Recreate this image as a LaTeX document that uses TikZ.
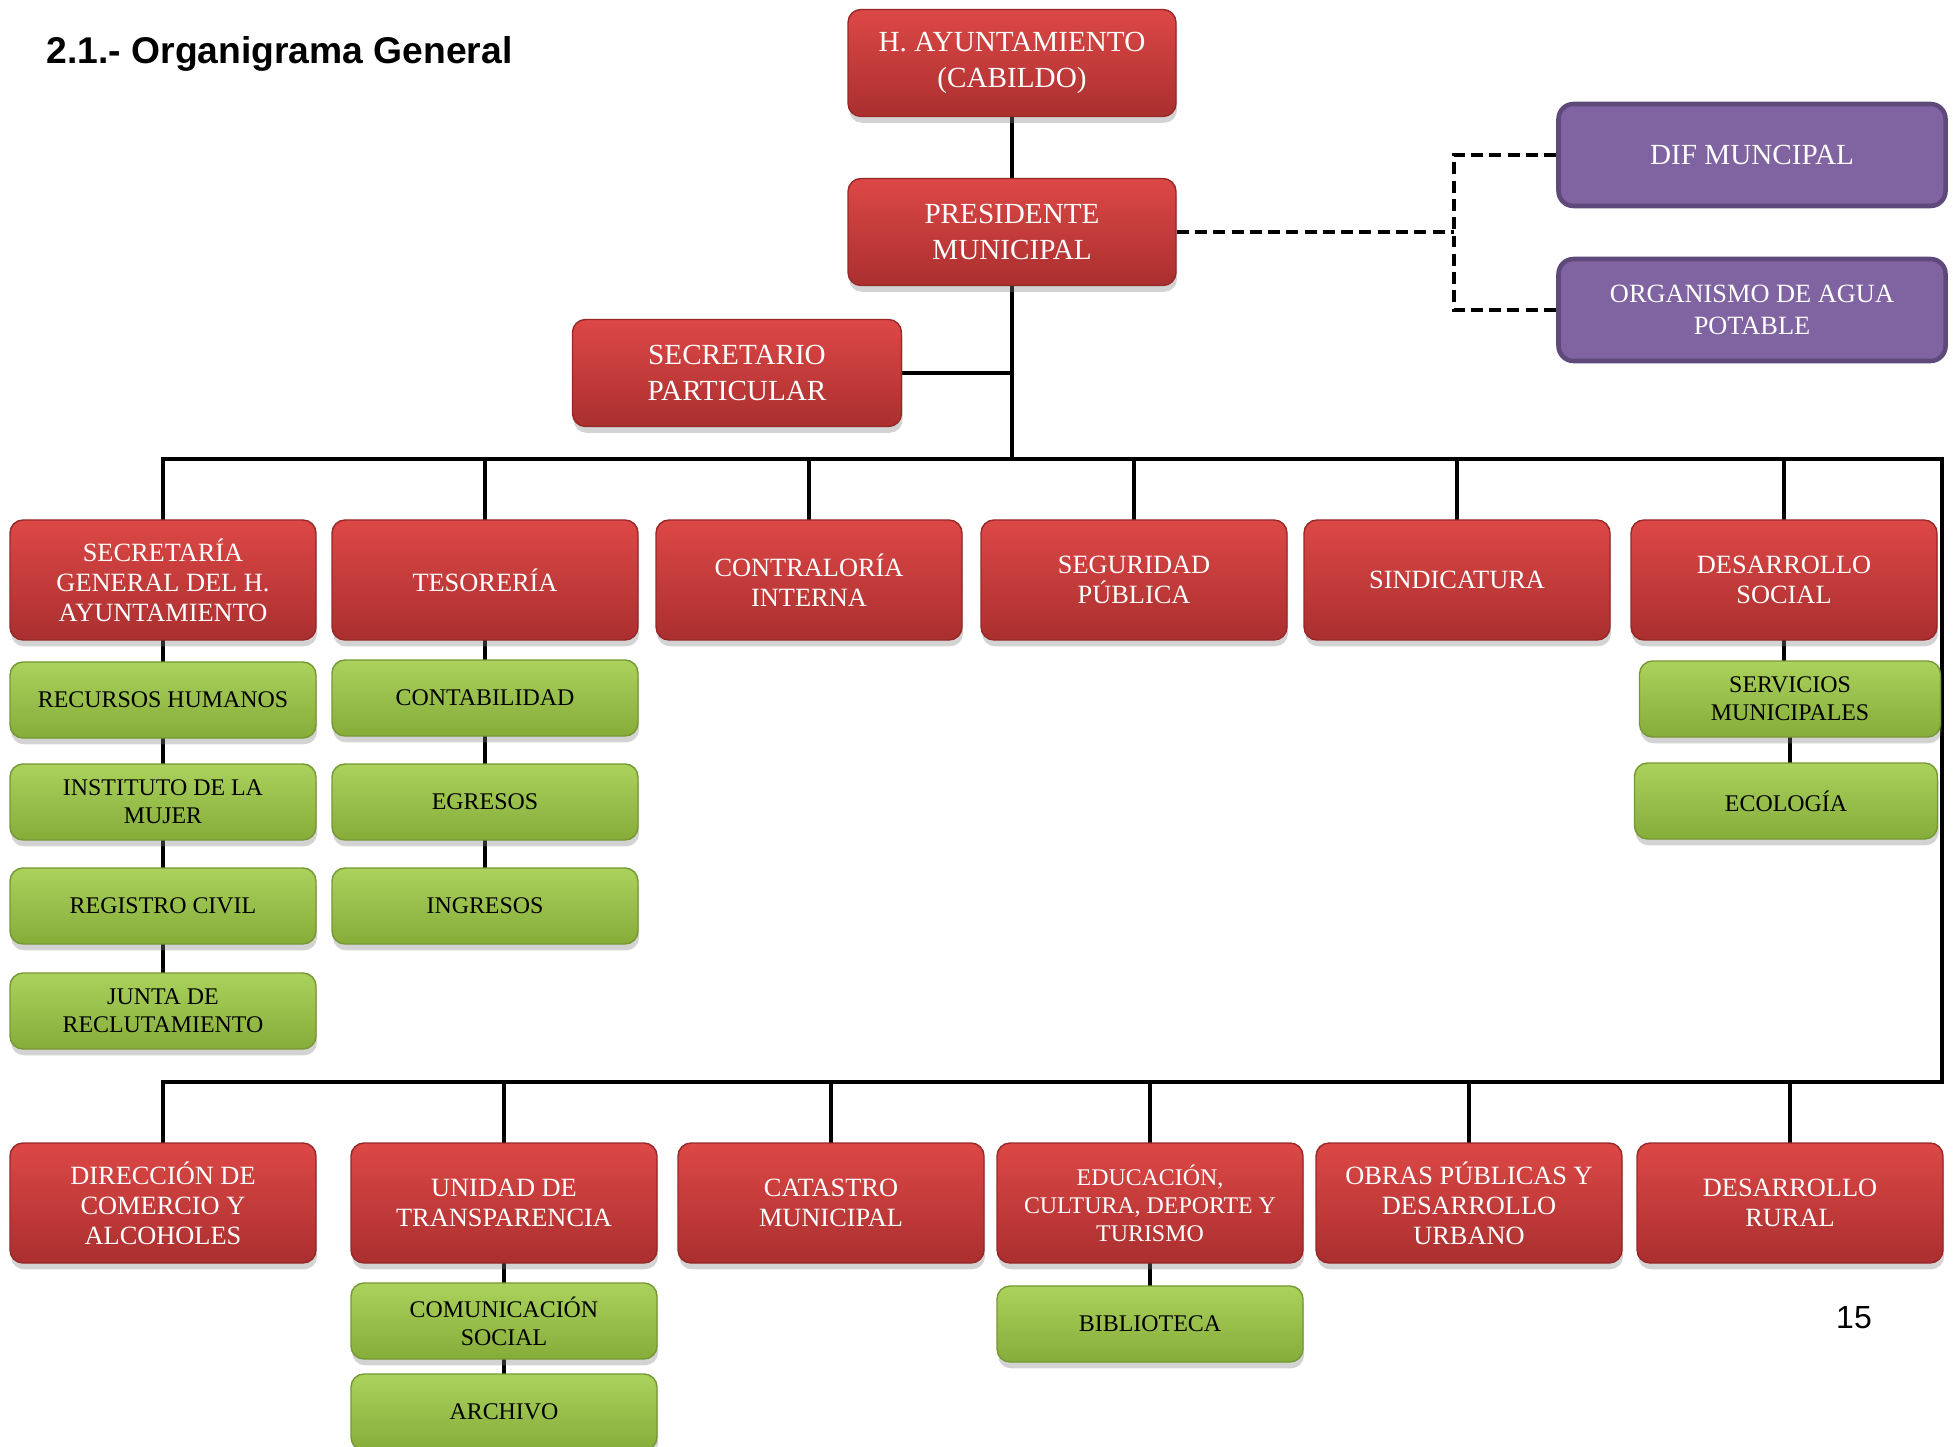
\documentclass[tikz,border=0pt]{standalone}
\usepackage{fontspec}
\setmainfont{Liberation Serif}
\newfontfamily\arialfont{Liberation Sans}
\usepackage{tikz}
\usetikzlibrary{shadows,positioning,backgrounds}

\definecolor{redtop}{RGB}{220,72,70}
\definecolor{redbot}{RGB}{170,47,47}
\definecolor{redline}{RGB}{150,40,40}
\definecolor{greentop}{RGB}{170,210,92}
\definecolor{greenbot}{RGB}{134,172,58}
\definecolor{greenline}{RGB}{118,152,52}
\definecolor{purplefill}{RGB}{128,100,162}
\definecolor{purpleline}{RGB}{94,73,122}

\tikzset{
  box/.style={rounded corners=0.13cm, align=center, inner sep=1pt,
    drop shadow={opacity=0.35,shadow xshift=0.3pt,shadow yshift=-1.8pt}},
  redbox/.style={box, top color=redtop, bottom color=redbot, draw=redline, line width=0.4pt,
    text=white, minimum width=3.06cm, minimum height=1.2cm, font=\fontsize{7.5}{8.5}\selectfont},
  bigred/.style={redbox, minimum width=3.28cm, minimum height=1.07cm, font=\fontsize{8.3}{10}\selectfont},
  greenbox/.style={box, top color=greentop, bottom color=greenbot, draw=greenline, line width=0.4pt,
    text=black, minimum width=3.06cm, minimum height=0.76cm, font=\fontsize{6.8}{8}\selectfont},
  purplebox/.style={rounded corners=0.15cm, fill=purplefill, draw=purpleline, line width=1.3pt,
    text=white, align=center, minimum width=3.87cm, minimum height=1.02cm, font=\fontsize{8.3}{9.5}\selectfont},
  link/.style={line width=1.4pt, line cap=rect},
  dashlink/.style={line width=1.4pt, dash pattern=on 3.4pt off 1.8pt},
}

\begin{document}
\begin{tikzpicture}
  \useasboundingbox (0,0) rectangle (19.55,-14.47);
  \node[anchor=west, inner sep=0pt, font=\arialfont\bfseries\fontsize{10.6}{12}\selectfont] (title) at (0.46,-0.54) {2.1.- Organigrama General};
  \node[font=\arialfont\fontsize{9.1}{11}\selectfont] (pagenum) at (18.54,-13.18) {15};

  \node[bigred] (ayunt) at (10.12,-0.63) {H. AYUNTAMIENTO\\(CABILDO)};
  \node[bigred] (pres) at (10.12,-2.32) {PRESIDENTE\\MUNICIPAL};
  \node[bigred, minimum width=3.29cm] (secpart) at (7.37,-3.73) {SECRETARIO\\PARTICULAR};
  \node[purplebox] (dif) at (17.52,-1.55) {DIF MUNCIPAL};
  \node[purplebox, font=\fontsize{7.5}{9}\selectfont] (agua) at (17.52,-3.10) {ORGANISMO DE AGUA\\POTABLE};

  \node[redbox] (secgen) at (1.63,-5.80) {SECRETARÍA\\GENERAL DEL H.\\AYUNTAMIENTO};
  \node[redbox] (teso) at (4.85,-5.80) {TESORERÍA};
  \node[redbox] (contra) at (8.09,-5.80) {CONTRALORÍA\\INTERNA};
  \node[redbox] (segur) at (11.34,-5.80) {SEGURIDAD\\PÚBLICA};
  \node[redbox] (sindi) at (14.57,-5.80) {SINDICATURA};
  \node[redbox] (dsocial) at (17.84,-5.80) {DESARROLLO\\SOCIAL};

  \node[greenbox] (rrhh) at (1.63,-7.00) {RECURSOS HUMANOS};
  \node[greenbox] (mujer) at (1.63,-8.02) {INSTITUTO DE LA\\MUJER};
  \node[greenbox] (registro) at (1.63,-9.06) {REGISTRO CIVIL};
  \node[greenbox] (junta) at (1.63,-10.11) {JUNTA DE\\RECLUTAMIENTO};
  \node[greenbox] (conta) at (4.85,-6.98) {CONTABILIDAD};
  \node[greenbox] (egresos) at (4.85,-8.02) {EGRESOS};
  \node[greenbox] (ingresos) at (4.85,-9.06) {INGRESOS};
  \node[greenbox, minimum width=3.01cm] (servic) at (17.90,-6.99) {SERVICIOS\\MUNICIPALES};
  \node[greenbox, minimum width=3.03cm] (ecolog) at (17.86,-8.01) {ECOLOGÍA};

  \node[redbox] (direc) at (1.63,-12.03) {DIRECCIÓN DE\\COMERCIO Y\\ALCOHOLES};
  \node[redbox] (unidad) at (5.04,-12.03) {UNIDAD DE\\TRANSPARENCIA};
  \node[redbox] (catas) at (8.31,-12.03) {CATASTRO\\MUNICIPAL};
  \node[redbox, font=\fontsize{6.8}{8}\selectfont] (educ) at (11.50,-12.03) {EDUCACIÓN,\\CULTURA, DEPORTE Y\\TURISMO};
  \node[redbox] (obras) at (14.69,-12.03) {OBRAS PÚBLICAS Y\\DESARROLLO\\URBANO};
  \node[redbox] (drural) at (17.90,-12.03) {DESARROLLO\\RURAL};

  \node[greenbox] (comun) at (5.04,-13.21) {COMUNICACIÓN\\SOCIAL};
  \node[greenbox] (archivo) at (5.04,-14.12) {ARCHIVO};
  \node[greenbox] (biblio) at (11.50,-13.24) {BIBLIOTECA};

  \coordinate (busL) at (1.63,-4.59);
  \coordinate (busR) at (19.42,-4.59);
  \coordinate (busBR) at (19.42,-10.82);
  \coordinate (busBL) at (1.63,-10.82);
  \coordinate (dsplit) at (14.54,-2.32);

  \begin{scope}[on background layer]
    \draw[link] (ayunt.south) -- (pres.north);
    \draw[link] (pres.south) -- (pres.south |- busL);
    \draw[link] (secpart.east) -- (secpart.east -| pres.south);
    \draw[link] (busL) -- (busR) -- (busBR) -- (busBL);
    \foreach \n in {secgen,teso,contra,segur,sindi,dsocial}
      \draw[link] (\n.north) -- (\n.north |- busL);
    \foreach \n in {direc,unidad,catas,educ,obras,drural}
      \draw[link] (\n.north) -- (\n.north |- busBL);
    \foreach \a/\b in {secgen/rrhh,rrhh/mujer,mujer/registro,registro/junta,teso/conta,conta/egresos,egresos/ingresos,dsocial/servic,servic/ecolog,unidad/comun,comun/archivo,educ/biblio}
      \draw[link] (\a.south) -- (\a.south |- \b.north);
    \draw[dashlink] (pres.east) -- (dsplit);
    \draw[dashlink] (dif.west) -| (dsplit) |- (agua.west);
  \end{scope}
\end{tikzpicture}
\end{document}
